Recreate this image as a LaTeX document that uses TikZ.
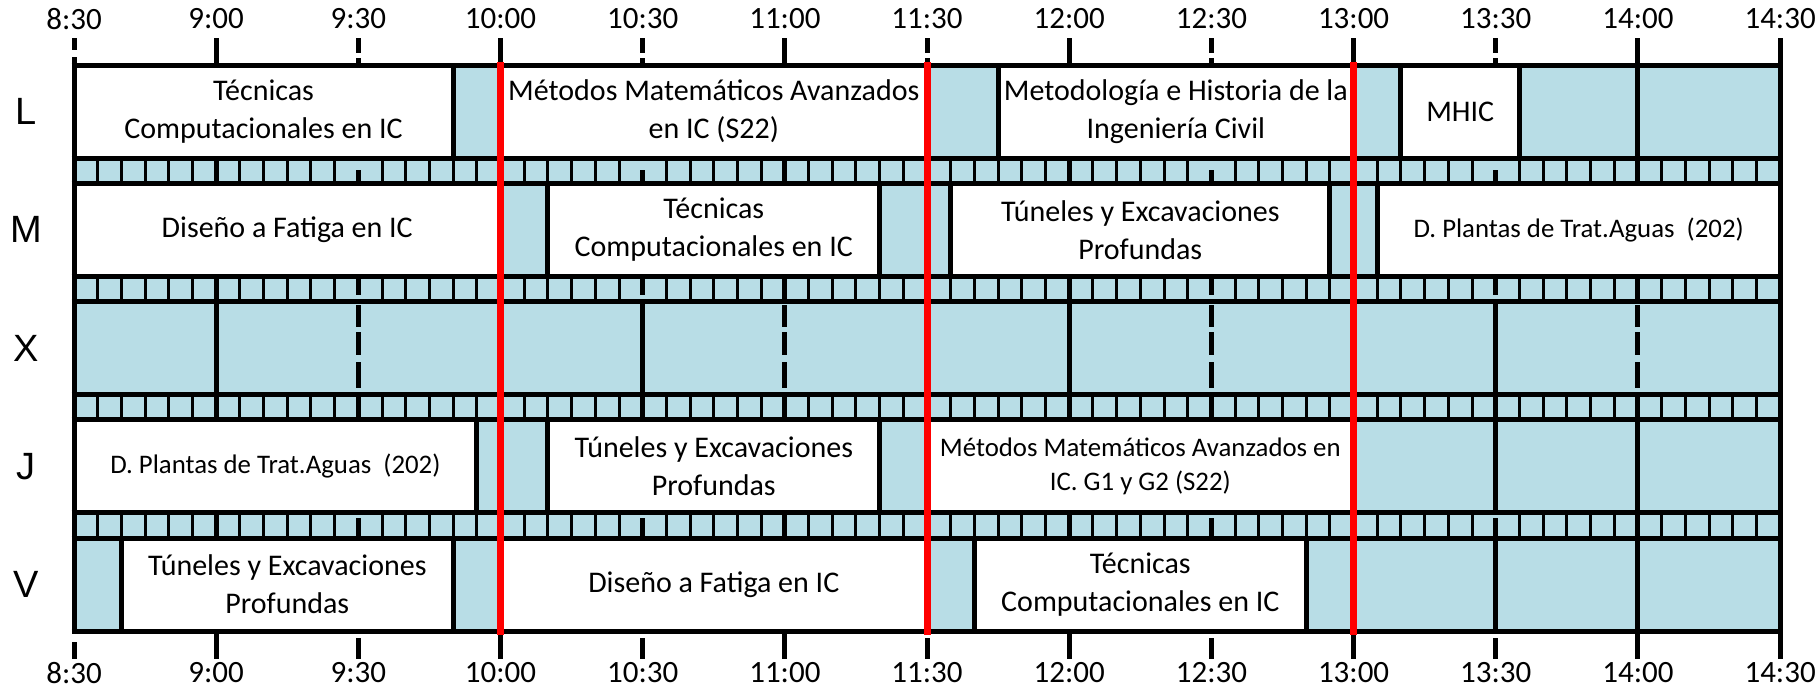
\documentclass[tikz,border=0pt]{standalone}
\usepackage{fontspec}
\setmainfont{Carlito}
\newfontfamily\labfont{Liberation Sans}
\definecolor{slot}{RGB}{184,221,230}
\definecolor{redline}{RGB}{255,0,0}
\tikzset{
  cls/.style={draw=black, line width=5pt, fill=white},
  free/.style={draw=black, line width=5pt, fill=slot},
  ctext/.style={font=\fontsize{30}{38}\selectfont, align=center, inner sep=0pt},
  stext/.style={font=\fontsize{26.8}{34}\selectfont, align=center, inner sep=0pt},
  ticklab/.style={font=\fontsize{31}{34}\selectfont, inner sep=0pt},
  rowlab/.style={font=\labfont\fontsize{38}{40}\selectfont, inner sep=0pt},
  sepline/.style={line width=3pt},
  gridline/.style={line width=5pt},
  nowline/.style={draw=redline, line width=7pt},
}
\newcommand\slotbox[3]{\draw[free] (#1,#3) rectangle (#2,#3+93);}
\newcommand\classbox[6]{\draw[cls] (#2,#4) rectangle (#3,#4+93);
  \node[#5] (#1) at ({(#2+#3)/2},#4+46.5) {#6};}
\begin{document}
\begin{tikzpicture}[x=4.739pt, y=-1pt]
\useasboundingbox (-15.615,0) rectangle (368.21,693);
% background
\fill[slot] (0,65) rectangle (360,631);
% strip separators (5 min)
\foreach \ya/\yb in {158/183.25, 276.25/301.5, 394.5/419.75, 512.75/538}{
  \foreach \b in {0,30,...,330}{
    \foreach \k in {5,10,...,25}{
      \draw[sepline] ({\b+\k},\ya) -- ({\b+\k},\yb);
    }
  }
}
% hour lines
\foreach \m in {30,90,...,330}{
  \draw[gridline] (\m,38) -- (\m,659);
}
% half-hour dashed pieces
\foreach \m in {60,120,...,300}{
  \foreach \ya/\yb in {38/53, 58/65, 170/183.25, 276.25/295, 394.5/419.75, 518/538, 638/659}{
    \draw[gridline] (\m,\ya) -- (\m,\yb);
  }
}
% borders at 8:30 and 14:30
\draw[gridline] (0,38) -- (0,50);
\draw[gridline] (0,57) -- (0,634);
\draw[gridline] (0,642) -- (0,659);
\draw[gridline] (360,38) -- (360,659);
% horizontal lines
\foreach \y in {65,158,183.25,276.25,301.5,394.5,419.75,512.75,538,631}{
  \draw[gridline] (-0.5,\y) -- (360.5,\y);
}
% ---- Row L ----
\classbox{l1}{0}{80}{65}{ctext}{Técnicas\\Computacionales en IC}
\slotbox{80}{90}{65}
\classbox{l2}{90}{180}{65}{ctext}{Métodos Matemáticos Avanzados\\en IC (S22)}
\slotbox{180}{195}{65}
\classbox{l3}{195}{270}{65}{ctext}{Metodología e Historia de la\\Ingeniería Civil}
\slotbox{270}{280}{65}
\classbox{l4}{280}{305}{65}{ctext}{MHIC}
\slotbox{305}{330}{65}
\slotbox{330}{360}{65}
% ---- Row M ----
\classbox{m1}{0}{90}{183.25}{ctext}{Diseño a Fatiga en IC}
\slotbox{90}{100}{183.25}
\classbox{m2}{100}{170}{183.25}{ctext}{Técnicas\\Computacionales en IC}
\slotbox{170}{185}{183.25}
\classbox{m3}{185}{265}{183.25}{ctext}{Túneles y Excavaciones\\Profundas}
\slotbox{265}{275}{183.25}
\classbox{m4}{275}{360}{183.25}{stext}{D. Plantas de Trat.Aguas\ \ (202)}
% ---- Row X ----
\slotbox{0}{30}{301.5}
\slotbox{30}{120}{301.5}
\slotbox{120}{210}{301.5}
\slotbox{210}{300}{301.5}
\slotbox{300}{360}{301.5}
\foreach \m in {60,150,240,330}{
  \foreach \ya/\yb in {305/327, 332/355, 362/388}{
    \draw[gridline] (\m,\ya) -- (\m,\yb);
  }
}
% ---- Row J ----
\classbox{j1}{0}{85}{419.75}{stext}{D. Plantas de Trat.Aguas\ \ (202)}
\slotbox{85}{100}{419.75}
\classbox{j2}{100}{170}{419.75}{ctext}{Túneles y Excavaciones\\Profundas}
\slotbox{170}{180}{419.75}
\classbox{j3}{180}{270}{419.75}{stext}{Métodos Matemáticos Avanzados en\\IC. G1 y G2 (S22)}
\slotbox{270}{300}{419.75}
\slotbox{300}{330}{419.75}
\slotbox{330}{360}{419.75}
% ---- Row V ----
\slotbox{0}{10}{538}
\classbox{v1}{10}{80}{538}{ctext}{Túneles y Excavaciones\\Profundas}
\slotbox{80}{90}{538}
\classbox{v2}{90}{180}{538}{ctext}{Diseño a Fatiga en IC}
\slotbox{180}{190}{538}
\classbox{v3}{190}{260}{538}{ctext}{Técnicas\\Computacionales en IC}
\slotbox{260}{300}{538}
\slotbox{300}{330}{538}
\slotbox{330}{360}{538}
% red lines
\foreach \m in {90,180,270}{
  \draw[nowline] (\m,62) -- (\m,635);
}
% tick labels
\foreach \m/\t in {0/8:30,30/9:00,60/9:30,90/10:00,120/10:30,150/11:00,180/11:30,210/12:00,240/12:30,270/13:00,300/13:30,330/14:00,360/14:30}{
  \node[ticklab] (top\m) at (\m,19) {\t};
  \node[ticklab] (bot\m) at (\m,673) {\t};
}
% row labels
\node[rowlab] (labL) at (-10.13,111.5) {L};
\node[rowlab] (labM) at (-10.13,229.75) {M};
\node[rowlab] (labX) at (-10.13,348) {X};
\node[rowlab] (labJ) at (-10.13,466.25) {J};
\node[rowlab] (labV) at (-10.13,584.5) {V};
\end{tikzpicture}
\end{document}
